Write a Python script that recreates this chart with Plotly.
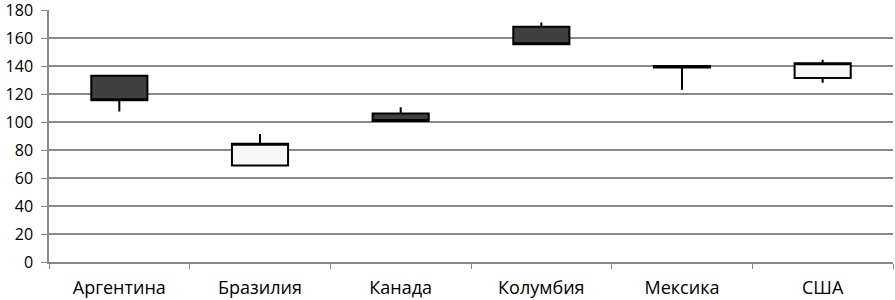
import plotly.graph_objects as go

categories = ["Аргентина", "Бразилия", "Канада", "Колумбия", "Мексика", "США"]
open_vals = [133, 69, 106, 168, 140, 131.5]
high_vals = [133, 91.5, 110.5, 171, 140, 144.5]
low_vals = [107.5, 69, 100.7, 155.5, 123, 128]
close_vals = [115.5, 84.5, 100.7, 155.5, 139, 142]
y_ticks = list(range(0, 181, 20))

fig = go.Figure()
fig.add_trace(go.Candlestick(
    x=categories,
    open=open_vals, high=high_vals, low=low_vals, close=close_vals,
    increasing=dict(fillcolor="#f7f7f7", line=dict(color="#000000", width=2)),
    decreasing=dict(fillcolor="#404040", line=dict(color="#000000", width=2)),
    whiskerwidth=0,
    showlegend=False,
))

fig.update_layout(
    width=895, height=300,
    margin=dict(l=49, r=2, t=10, b=38, autoexpand=False),
    paper_bgcolor="white", plot_bgcolor="white",
    font=dict(family="Open Sans", size=17, color="#000000"),
    boxgap=0.43,
    xaxis=dict(
        type="category", rangeslider=dict(visible=False),
        range=[-0.5, 5.5], automargin=False,
        showgrid=False, showline=True, linecolor="#888888", linewidth=1.5,
        ticks="outside", tickson="boundaries", ticklen=5, tickcolor="#888888",
        tickfont=dict(size=18), ticklabelstandoff=9,
    ),
    yaxis=dict(
        range=[0, 180], tickvals=y_ticks, automargin=False,
        showgrid=True, gridcolor="#888888", gridwidth=1.5,
        showline=True, linecolor="#888888", linewidth=1.5,
        ticks="outside", ticklen=6, tickcolor="#888888",
        tickfont=dict(size=16), zeroline=False, ticklabelstandoff=5,
        ticklabeloverflow="allow",
    ),
)

fig.write_html("out.html", post_script="document.body.style.margin='0';",
               config={"displayModeBar": False})
